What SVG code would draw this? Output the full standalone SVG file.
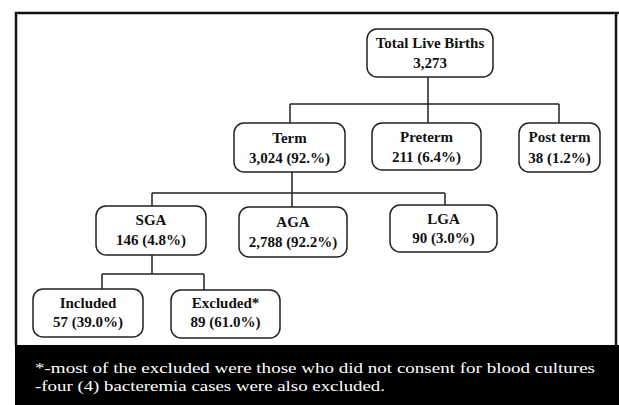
<svg xmlns="http://www.w3.org/2000/svg" width="619" height="405" viewBox="0 0 619 405">
<style>
.box{fill:#fff;stroke:#222;stroke-width:1.5}
.t{font-family:"Liberation Serif","Times New Roman",serif;font-weight:bold;font-size:15px;fill:#111;text-anchor:middle}
.c{fill:none;stroke:#222;stroke-width:1.5}
.note{font-family:"Liberation Serif","Times New Roman",serif;font-size:14.5px;fill:#fff}
</style>
<rect x="0" y="0" width="619" height="405" fill="#fff"/>
<g id="frame">
<path d="M16 345 V13 H619 M616 13 V345" fill="none" stroke="#111" stroke-width="2.5"/>
<rect x="15" y="345" width="604" height="60" fill="#000"/>
<text class="note" x="35" y="373" textLength="560" lengthAdjust="spacingAndGlyphs">*-most of the excluded were those who did not consent for blood cultures</text>
<text class="note" x="35" y="391" textLength="350" lengthAdjust="spacingAndGlyphs">-four (4) bacteremia cases were also excluded.</text>
</g>
<g id="connectors">
<path class="c" d="M428 77 V104 M290 104 H559 M290 104 V123 M428 104 V123 M559 104 V123"/>
<path class="c" d="M292 172 V207 M152 193 H445 M152 193 V206 M445 193 V205"/>
<path class="c" d="M152 255 V274 M102 274 H204 M102 274 V289 M204 274 V290"/>
</g>
<g id="total">
<rect class="box" x="367" y="29" width="126" height="48" rx="10"/>
<text class="t" x="430" y="48">Total Live Births</text>
<text class="t" x="430" y="68">3,273</text>
</g>
<g id="term">
<rect class="box" x="234" y="123" width="111" height="49" rx="10"/>
<text class="t" x="289.5" y="143">Term</text>
<text class="t" x="289.5" y="163">3,024 (92.%)</text>
</g>
<g id="preterm">
<rect class="box" x="372" y="123" width="109" height="47" rx="10"/>
<text class="t" x="426.5" y="142">Preterm</text>
<text class="t" x="426.5" y="162">211 (6.4%)</text>
</g>
<g id="postterm">
<rect class="box" x="519" y="123" width="81" height="49" rx="10"/>
<text class="t" x="559.5" y="142">Post term</text>
<text class="t" x="559.5" y="163">38 (1.2%)</text>
</g>
<g id="sga">
<rect class="box" x="96" y="206" width="110" height="49" rx="10"/>
<text class="t" x="151" y="225">SGA</text>
<text class="t" x="151" y="245">146 (4.8%)</text>
</g>
<g id="aga">
<rect class="box" x="239" y="207" width="108" height="50" rx="10"/>
<text class="t" x="293" y="227">AGA</text>
<text class="t" x="293" y="247">2,788 (92.2%)</text>
</g>
<g id="lga">
<rect class="box" x="390" y="205" width="107" height="47" rx="10"/>
<text class="t" x="443.5" y="224">LGA</text>
<text class="t" x="443.5" y="243">90 (3.0%)</text>
</g>
<g id="included">
<rect class="box" x="33" y="289" width="110" height="48" rx="10"/>
<text class="t" x="88" y="308">Included</text>
<text class="t" x="88" y="327">57 (39.0%)</text>
</g>
<g id="excluded">
<rect class="box" x="171" y="290" width="109" height="48" rx="10"/>
<text class="t" x="225.5" y="308">Excluded*</text>
<text class="t" x="225.5" y="327">89 (61.0%)</text>
</g>
</svg>
